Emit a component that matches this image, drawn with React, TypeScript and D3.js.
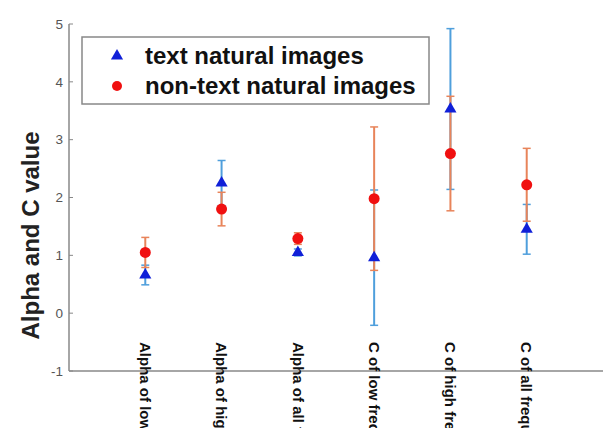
import React from "react";
import * as d3 from "d3";

const categories = [
  "Alpha of low frequency",
  "Alpha of high frequency",
  "Alpha of all frequency",
  "C of low frequency",
  "C of high frequency",
  "C of all frequency",
];
const textMean = [0.66, 2.25, 1.05, 0.96, 3.53, 1.45];
const textErr = [0.17, 0.39, 0.06, 1.17, 1.39, 0.43];
const nonTextMean = [1.05, 1.8, 1.29, 1.98, 2.76, 2.22];
const nonTextErr = [0.26, 0.29, 0.1, 1.24, 0.99, 0.63];
const yTicks = [-1, 0, 1, 2, 3, 4, 5];
const seriesNames = ["text natural images", "non-text natural images"];

const W = 616;
const H = 428;
const FONT = "'Liberation Sans', Arial, sans-serif";

export default function App() {
  const x = d3.scaleLinear().domain([0, 7]).range([69, 603]);
  const y = d3.scaleLinear().domain([-1, 5]).range([371, 24]);
  const tri = d3.symbol().type(d3.symbolTriangle).size(64)();
  const cap = 4;

  const errBars = (means: number[], errs: number[], color: string, key: string) =>
    means.map((m, i) => {
      const cx = x(i + 1);
      const lo = y(m - errs[i]);
      const hi = y(m + errs[i]);
      return (
        <g key={key + i} stroke={color} strokeWidth={2}>
          <line x1={cx} x2={cx} y1={lo} y2={hi} />
          <line x1={cx - cap} x2={cx + cap} y1={lo} y2={lo} strokeWidth={1.5} />
          <line x1={cx - cap} x2={cx + cap} y1={hi} y2={hi} strokeWidth={1.5} />
        </g>
      );
    });

  return (
    <svg
      width={W}
      height={H}
      style={{ position: "absolute", left: 0, top: 0, background: "#fff" }}
      fontFamily={FONT}
    >
      <rect width={W} height={H} fill="#fff" />
      {/* axes */}
      <line x1={x(0)} x2={x(0)} y1={y(5)} y2={y(-1)} stroke="#888" strokeWidth={1.5} />
      <line x1={x(0)} x2={x(7)} y1={y(-1)} y2={y(-1)} stroke="#888" strokeWidth={1.5} />
      {yTicks.map((t) => (
        <g key={t}>
          <line x1={x(0)} x2={x(0) + 4} y1={y(t)} y2={y(t)} stroke="#888" strokeWidth={1} />
          <text x={x(0) - 6} y={y(t)} dy="0.35em" textAnchor="end" fontSize={13.5} fill="#555">
            {t}
          </text>
        </g>
      ))}
      {/* x tick labels */}
      {categories.map((c, i) => (
        <text
          key={c}
          transform={`translate(${x(i + 1)},342) rotate(90)`}
          dy="0.35em"
          fontSize={15}
          fontWeight="bold"
          fill="#111"
        >
          {c}
        </text>
      ))}
      {/* y label */}
      <text
        transform={`translate(31,${(131 + 340) / 2}) rotate(-90)`}
        textAnchor="middle"
        dy="0.35em"
        fontSize={24}
        fontWeight="bold"
        fill="#222"
      >
        Alpha and C value
      </text>
      {/* error bars */}
      {errBars(textMean, textErr, "#4f9fdc", "t")}
      {errBars(nonTextMean, nonTextErr, "#e8845a", "n")}
      {/* markers */}
      {nonTextMean.map((m, i) => (
        <circle key={"c" + i} cx={x(i + 1)} cy={y(m)} r={5.5} fill="#f01010" />
      ))}
      {textMean.map((m, i) => (
        <path key={"p" + i} d={tri!} transform={`translate(${x(i + 1)},${y(m)})`} fill="#1020d8" />
      ))}
      {/* legend */}
      <rect x={82} y={37} width={347} height={67} fill="#fff" stroke="#888" strokeWidth={1.5} />
      <path d={tri!} transform="translate(117,56)" fill="#1020d8" />
      <circle cx={117} cy={86} r={5} fill="#f01010" />
      <text x={145} y={56} dy="0.35em" fontSize={24} fontWeight="bold" fill="#111">
        {seriesNames[0]}
      </text>
      <text x={145} y={86} dy="0.35em" fontSize={24} fontWeight="bold" fill="#111">
        {seriesNames[1]}
      </text>
    </svg>
  );
}
